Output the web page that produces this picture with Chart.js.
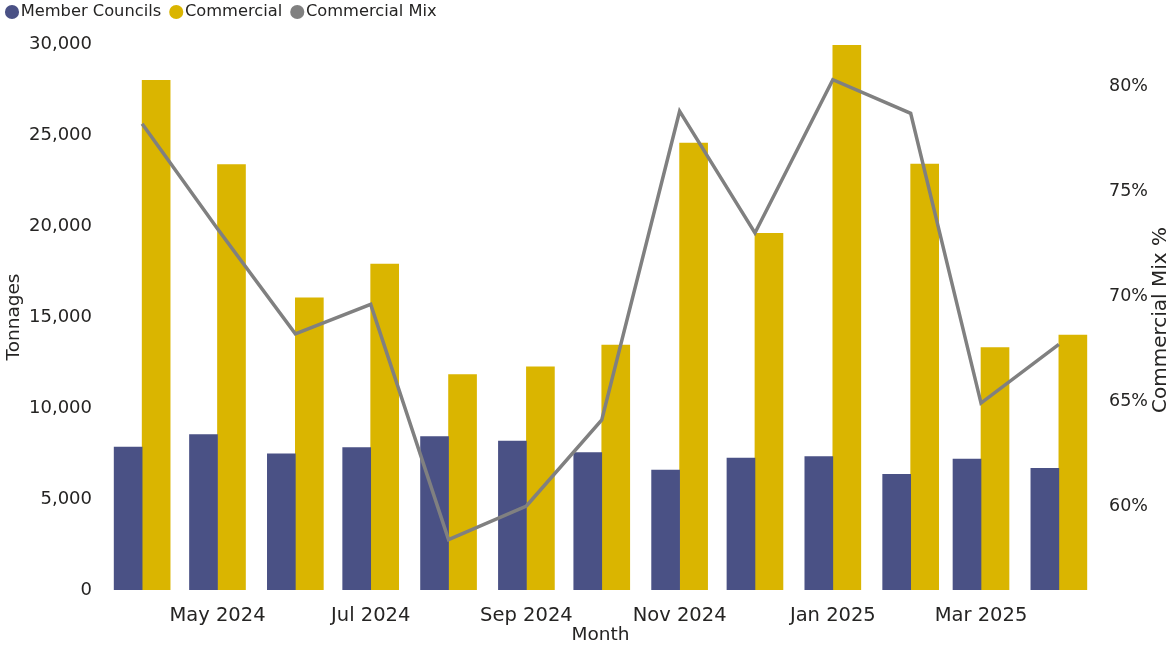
<!DOCTYPE html>
<html>
<head>
<meta charset="utf-8">
<script src="https://cdn.jsdelivr.net/npm/chart.js@4"></script>
<style>
  html, body { margin: 0; padding: 0; background: #fff; }
  #wrap { width: 1171px; height: 646px; }
</style>
</head>
<body>
<div id="wrap"><canvas id="mixChart" width="1171" height="646"></canvas></div>
<script>
// months shown (first day of each month)
const months = ['2024-04-01', '2024-05-01', '2024-06-01', '2024-07-01', '2024-08-01', '2024-09-01',
  '2024-10-01', '2024-11-01', '2024-12-01', '2025-01-01', '2025-02-01', '2025-03-01', '2025-04-01'];

// tonnages
const memberCouncils = [7850, 8540, 7480, 7820, 8430, 8180, 7550, 6590, 7250, 7330, 6350, 7200, 6690];
const commercial = [28000, 23380, 16050, 17910, 11840, 12260, 13460, 24560, 19600, 29930, 23400, 13320, 14010];

// commercial mix %, right axis
const commercialMix = [78.2, 73.2, 68.2, 69.6, 58.4, 60.0, 64.1, 78.8, 73.0, 80.3, 78.7, 64.9, 67.7];

// x tick labels
const tickDates = ['2024-05-01', '2024-07-01', '2024-09-01', '2024-11-01', '2025-01-01', '2025-03-01'];
const tickLabels = ['May 2024', 'Jul 2024', 'Sep 2024', 'Nov 2024', 'Jan 2025', 'Mar 2025'];

const mixTicks = [60, 65, 70, 75, 80];

const DAY = 86400000;
const toMs = d => Date.parse(d + 'T00:00:00Z');
const xs = months.map(toMs);
const tickMs = tickDates.map(toMs);
const pts = vals => vals.map((v, i) => ({ x: xs[i], y: v }));

const textColor = '#252423';
const fontFamily = '"DejaVu Sans", Verdana, sans-serif';

// right axis title reads bottom-to-top, like the left one
const rightTitle = {
  id: 'rightTitle',
  afterDraw(chart) {
    const { ctx, chartArea } = chart;
    ctx.save();
    ctx.translate(1161, (chartArea.top + chartArea.bottom) / 2 + 3);
    ctx.rotate(-Math.PI / 2);
    ctx.fillStyle = textColor;
    ctx.font = '20px ' + fontFamily;
    ctx.textAlign = 'center';
    ctx.textBaseline = 'middle';
    ctx.fillText('Commercial Mix %', 0, 0);
    ctx.restore();
  }
};

// nudge the legend up/left into the corner
const legendShift = {
  id: 'legendShift',
  beforeInit(chart) {
    const legend = chart.legend;
    const draw = legend.draw.bind(legend);
    legend.draw = function () {
      this.ctx.save();
      this.ctx.translate(-3, -13.85);
      draw();
      this.ctx.restore();
    };
  }
};

const ctx = document.getElementById('mixChart').getContext('2d');
new Chart(ctx, {
  data: {
    datasets: [
      {
        type: 'bar',
        label: 'Member Councils',
        data: pts(memberCouncils),
        backgroundColor: '#4A5185',
        barThickness: 28,
        yAxisID: 'y',
        order: 2
      },
      {
        type: 'bar',
        label: 'Commercial',
        data: pts(commercial),
        backgroundColor: '#DAB500',
        barThickness: 28,
        yAxisID: 'y',
        order: 2
      },
      {
        type: 'line',
        label: 'Commercial Mix',
        data: pts(commercialMix),
        borderColor: '#808080',
        backgroundColor: '#808080',
        borderWidth: 3.5,
        pointRadius: 0,
        tension: 0,
        yAxisID: 'y1',
        order: 1
      }
    ]
  },
  plugins: [rightTitle, legendShift],
  options: {
    responsive: false,
    animation: false,
    layout: { padding: { top: 3.2, left: 0, right: 0, bottom: 0 } },
    plugins: {
      tooltip: { enabled: false },
      legend: {
        position: 'top',
        align: 'start',
        labels: {
          usePointStyle: true,
          pointStyle: 'circle',
          boxWidth: 1,
          boxHeight: 10,
          padding: 14.5,
          color: textColor,
          font: { family: fontFamily, size: 16.3 },
          sort: (a, b) => a.datasetIndex - b.datasetIndex,
          generateLabels: chart => Chart.defaults.plugins.legend.labels.generateLabels(chart)
            .map(item => ({ ...item, lineWidth: 0 }))
        }
      }
    },
    scales: {
      x: {
        type: 'linear',
        offset: false,
        min: xs[0] - 12 * DAY,
        max: xs[xs.length - 1] + 12 * DAY,
        grid: { display: false, offset: false },
        border: { display: false },
        afterBuildTicks: scale => {
          scale.ticks = tickMs.map(v => ({ value: v }));
        },
        afterFit: scale => { scale.height = 56; },
        ticks: {
          autoSkip: false,
          maxRotation: 0,
          padding: 6.5,
          color: textColor,
          font: { family: fontFamily, size: 19.5 },
          callback: value => tickLabels[tickMs.indexOf(value)]
        },
        title: {
          display: true,
          text: 'Month',
          color: textColor,
          padding: 0,
          font: { family: fontFamily, size: 18.5 }
        }
      },
      y: {
        position: 'left',
        min: 0,
        max: 30000,
        grid: { display: false },
        border: { display: false },
        afterFit: scale => { scale.width = 112; },
        ticks: {
          stepSize: 5000,
          padding: 12,
          color: textColor,
          font: { family: fontFamily, size: 18 },
          callback: v => v.toLocaleString('en-US')
        },
        title: {
          display: true,
          text: 'Tonnages',
          color: textColor,
          padding: { top: 3, bottom: 0 },
          font: { family: fontFamily, size: 18.5 }
        }
      },
      y1: {
        position: 'right',
        min: 56,
        max: 82,
        grid: { display: false },
        border: { display: false },
        afterBuildTicks: scale => {
          scale.ticks = mixTicks.map(v => ({ value: v }));
        },
        afterFit: scale => { scale.width = 82; },
        ticks: {
          padding: 12,
          color: textColor,
          font: { family: fontFamily, size: 17.5 },
          callback: v => v + '%'
        }
      }
    }
  }
});
</script>
</body>
</html>
